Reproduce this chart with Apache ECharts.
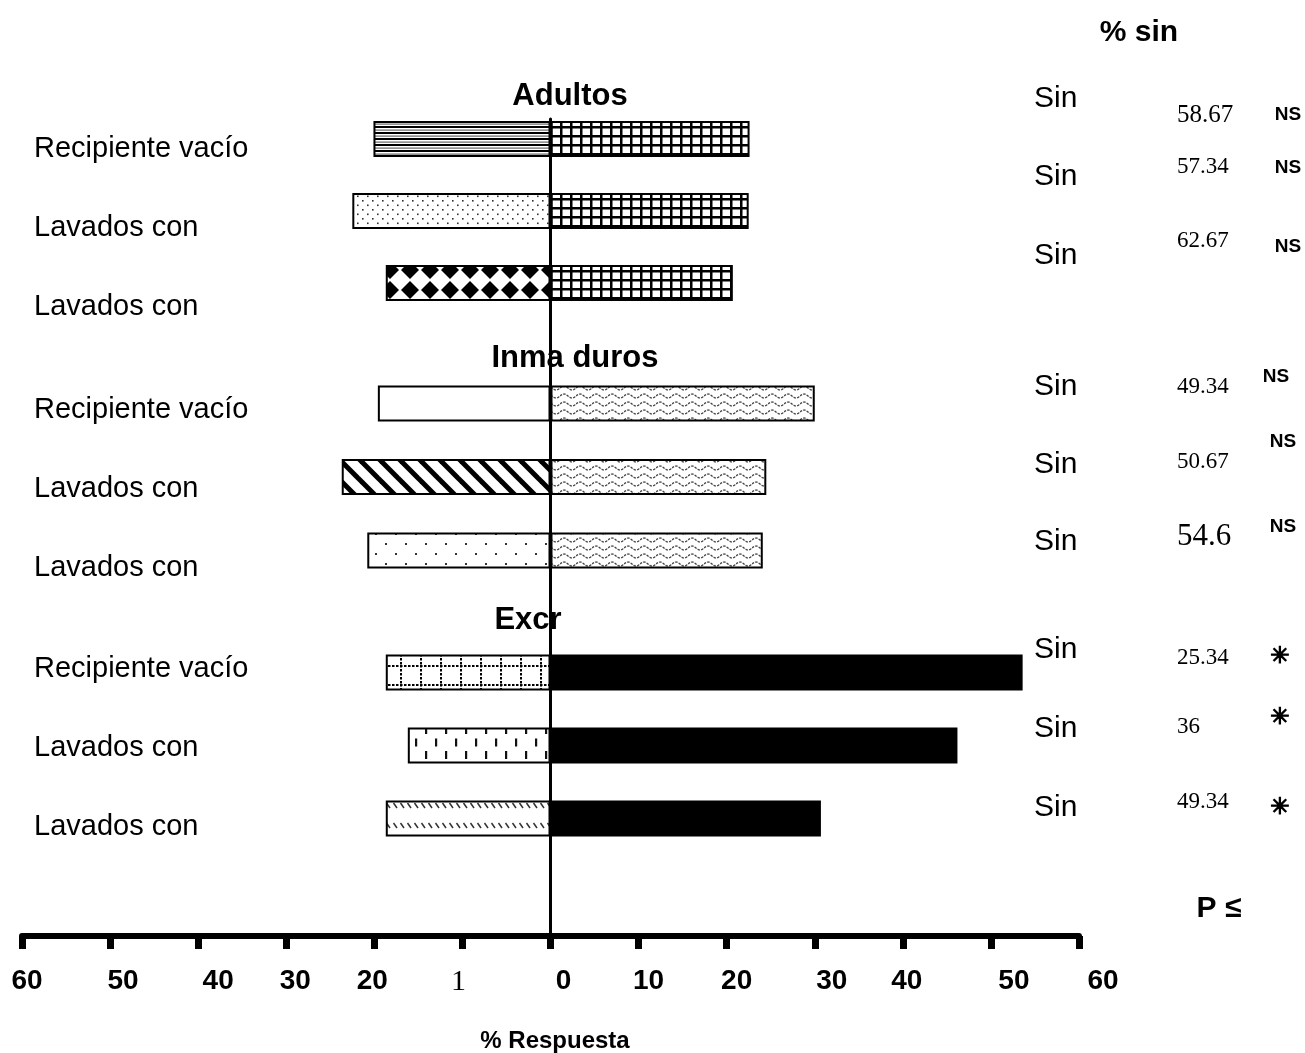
<!DOCTYPE html>
<html>
<head>
<meta charset="utf-8">
<title>% Respuesta</title>
<script src="https://cdn.jsdelivr.net/npm/echarts@6/dist/echarts.min.js"></script>
<style>
  html, body { margin: 0; padding: 0; background: #fff; }
  #main { width: 1305px; height: 1053px; }
</style>
</head>
<body>
<div id="main"></div>
<script>
// datos
var groupNames = ['Adultos', 'Inma duros', 'Excr'];
var rowLabels = ['Recipiente vacío', 'Lavados con', 'Lavados con'];
var leftPct = [[20.1, 22.5, 18.7], [19.6, 23.7, 20.8], [18.7, 16.2, 18.7]];
var rightPct = [[22.6, 22.5, 20.7], [30.0, 24.5, 24.1], [53.6, 46.2, 30.7]];
var sinLabel = ['Sin', 'Sin', 'Sin', 'Sin', 'Sin', 'Sin', 'Sin', 'Sin', 'Sin'];
var sinPct = ['58.67', '57.34', '62.67', '49.34', '50.67', '54.6', '25.34', '36', '49.34'];
var signif = ['NS', 'NS', 'NS', 'NS', 'NS', 'NS', '✳', '✳', '✳'];
var xTickLabels = ['60', '50', '40', '30', '20', '1', '0', '10', '20', '30', '40', '50', '60'];

// layout
var barTop = [103, 366.75, 636], barH = [216, 220.5, 219];
var labTop = [109.5, 370.5, 629.5], labH = 237;
var titlePos = [[570, 96], [575, 358], [528, 620]];
var sinY = [99, 177, 256, 387, 465, 542, 650, 729, 808];
var valY = [115, 167, 241, 387, 462, 537, 658, 727, 802];
var valSize = [25, 23, 23, 23, 23, 31, 23, 23, 23];
var sigX = [1288, 1288, 1288, 1276, 1283, 1283, 1280, 1280, 1280];
var sigY = [115, 168, 247, 377, 442, 527, 657, 718, 808];
var tickShift = [5, 13, 20, 9, -2, -4, 13, 10, 10, 17, 4, 23, 24];

var SANS = '"Liberation Sans", Arial, sans-serif';
var SERIF = '"Liberation Serif", "Times New Roman", serif';

function tile(w, h, draw) {
    var c = document.createElement('canvas');
    c.width = w; c.height = h;
    var g = c.getContext('2d');
    g.fillStyle = '#fff';
    g.fillRect(0, 0, w, h);
    draw(g);
    return { image: c, repeat: 'repeat' };
}

var hStripes = tile(8, 6, function (g) {
    g.fillStyle = '#000'; g.fillRect(0, 0, 8, 2);
    g.fillStyle = '#666'; g.fillRect(0, 3.5, 8, 1.2);
});
var stipple = tile(10, 9, function (g) {
    g.fillStyle = '#333';
    g.fillRect(2, 2, 1.6, 1.6);
    g.fillRect(7, 6.5, 1.6, 1.6);
});
var diamonds = tile(20, 20, function (g) {
    g.fillStyle = '#000';
    g.beginPath();
    g.moveTo(10, 1); g.lineTo(19, 10); g.lineTo(10, 19); g.lineTo(1, 10);
    g.closePath(); g.fill();
});
var white = '#fff';
var diag = tile(20, 20, function (g) {
    g.strokeStyle = '#000'; g.lineWidth = 5;
    [-20, 0, 20].forEach(function (o) {
        g.beginPath(); g.moveTo(o - 6, -6); g.lineTo(o + 26, 26); g.stroke();
    });
});
var sparseDots = tile(20, 20, function (g) {
    g.fillStyle = '#333';
    g.fillRect(5, 3, 2, 2);
    g.fillRect(15, 13, 2, 2);
});
var dottedGrid = tile(20, 19, function (g) {
    g.fillStyle = '#000';
    for (var y = 0; y < 19; y += 4) g.fillRect(0, y, 2, 2.5);
    for (var x = 0; x < 20; x += 4) g.fillRect(x, 0, 2.5, 2);
});
var vDashes = tile(20, 25, function (g) {
    g.fillStyle = '#111';
    g.fillRect(5, 1, 2.2, 8);
    g.fillRect(15, 13.5, 2.2, 8);
});
var smallDiag = tile(7, 20, function (g) {
    g.strokeStyle = '#333'; g.lineWidth = 1.5;
    g.beginPath(); g.moveTo(1.5, 3); g.lineTo(5, 8); g.stroke();
});
var gridFill = tile(10, 9, function (g) {
    g.fillStyle = '#000';
    g.fillRect(0, 0, 10, 2.5);
    g.fillRect(0, 0, 2.5, 9);
});
var wavy = tile(16, 8, function (g) {
    g.strokeStyle = '#444'; g.lineWidth = 1.3;
    g.setLineDash([2.5, 1.2]);
    g.beginPath();
    for (var x = 0; x <= 16; x += 0.5) {
        var y = 4 - 2 * Math.sin(2 * Math.PI * x / 16);
        if (x === 0) g.moveTo(x, y); else g.lineTo(x, y);
    }
    g.stroke();
});

var leftFill = [hStripes, stipple, diamonds, white, diag, sparseDots, dottedGrid, vDashes, smallDiag];
var rightFill = [gridFill, gridFill, gridFill, wavy, wavy, wavy, '#000', '#000', '#000'];

var grids = [], xAxes = [], yAxes = [], series = [];

for (var g = 0; g < 3; g++) {
    // barras
    grids.push({ left: 22, right: 226, top: barTop[g], height: barH[g] });
    xAxes.push({ type: 'value', gridIndex: g, min: -60, max: 60, show: false });
    yAxes.push({ type: 'category', gridIndex: g, inverse: true, data: rowLabels, show: false });
    (function (g) {
        series.push({
            type: 'bar', xAxisIndex: g, yAxisIndex: g, barWidth: 36, barGap: '-100%',
            itemStyle: { borderColor: '#000', borderWidth: 2 },
            data: leftPct[g].map(function (v, i) {
                return { value: -v, itemStyle: { color: leftFill[g * 3 + i] } };
            })
        });
        series.push({
            type: 'bar', xAxisIndex: g, yAxisIndex: g, barWidth: 36, barGap: '-100%',
            itemStyle: { borderColor: '#000', borderWidth: 2 },
            data: rightPct[g].map(function (v, i) {
                return { value: v, itemStyle: { color: rightFill[g * 3 + i] } };
            })
        });
    })(g);
}

for (var g = 0; g < 3; g++) {
    // etiquetas de filas
    grids.push({ left: 34, width: 300, top: labTop[g], height: labH });
    xAxes.push({ type: 'value', gridIndex: 3 + g, show: false });
    yAxes.push({
        type: 'category', gridIndex: 3 + g, inverse: true, data: rowLabels,
        axisLine: { show: false }, axisTick: { show: false },
        axisLabel: { inside: true, margin: 0, color: '#000', fontSize: 29, fontFamily: SANS, align: 'left' }
    });
}

// eje principal
var rich = {};
tickShift.forEach(function (d, i) {
    rich['t' + i] = {
        fontSize: i === 5 ? 30 : 28,
        fontWeight: i === 5 ? 'normal' : 'bold',
        fontFamily: i === 5 ? SERIF : SANS,
        color: '#000',
        padding: d >= 0 ? [0, 0, 0, 2 * d] : [0, -2 * d, 0, 0]
    };
});
grids.push({ left: 22, right: 226, top: 119, height: 817 });
xAxes.push({
    type: 'value', gridIndex: 6, min: -60, max: 60, interval: 10,
    axisLine: { onZero: false, lineStyle: { color: '#000', width: 6 } },
    axisTick: { show: true, length: 13, lineStyle: { color: '#000', width: 7 } },
    splitLine: { show: false },
    axisLabel: {
        margin: 31,
        formatter: function (v) {
            var i = Math.round((v + 60) / 10);
            return '{t' + i + '|' + xTickLabels[i] + '}';
        },
        rich: rich
    }
});
yAxes.push({
    type: 'value', gridIndex: 6, min: 0, max: 1, z: 10,
    axisLine: { show: true, onZero: true, lineStyle: { color: '#000', width: 3 } },
    axisTick: { show: false }, axisLabel: { show: false }, splitLine: { show: false }
});

function txt(text, x, y, font, align, thick) {
    var st = {
        text: text, font: font, fill: '#000',
        align: align || 'center', textAlign: align || 'center',
        verticalAlign: 'middle', textVerticalAlign: 'middle'
    };
    if (thick) { st.stroke = '#000'; st.lineWidth = thick; }
    return { type: 'text', x: x, y: y, z: 20, style: st };
}

var graphics = [];
groupNames.forEach(function (n, i) {
    graphics.push(txt(n, titlePos[i][0], titlePos[i][1], 'bold 31px ' + SANS));
});
graphics.push(txt('% sin', 1139, 33, 'bold 30px ' + SANS));
graphics.push(txt('P ≤', 1219, 909, 'bold 30px ' + SANS));
graphics.push(txt('% Respuesta', 555, 1041, 'bold 24px ' + SANS));
for (var i = 0; i < 9; i++) {
    graphics.push(txt(sinLabel[i], 1034, sinY[i], '30px ' + SANS, 'left'));
    graphics.push(txt(sinPct[i], 1177, valY[i], valSize[i] + 'px ' + SERIF, 'left'));
    if (signif[i] === 'NS') {
        graphics.push(txt(signif[i], sigX[i], sigY[i], 'bold 19px ' + SANS));
    } else {
        graphics.push(txt(signif[i], sigX[i], sigY[i], 'bold 23px "DejaVu Sans", sans-serif', 'center', 1.2));
    }
}

var myecharts = echarts.init(document.getElementById('main'));
myecharts.setOption({
    animation: false,
    backgroundColor: '#fff',
    grid: grids,
    xAxis: xAxes,
    yAxis: yAxes,
    series: series,
    graphic: graphics
});
</script>
</body>
</html>
